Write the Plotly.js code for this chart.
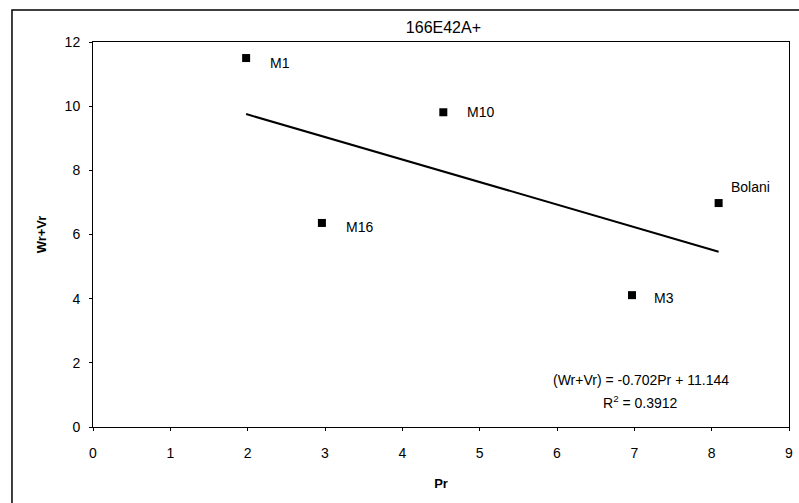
<!DOCTYPE html>
<html>
<head>
<meta charset="utf-8">
<script src="https://cdn.plot.ly/plotly-3.0.1.min.js"></script>
<style>html,body{margin:0;padding:0;background:#fff;}#chart{width:799px;height:503px;}</style>
</head>
<body>
<div id="chart"></div>
<script>
const names = ["M1", "M10", "M16", "M3", "Bolani"];
const pr = [1.98, 4.53, 2.96, 6.97, 8.09];
const wrvr = [11.5, 9.81, 6.36, 4.11, 6.98];
const slope = -0.702;
const intercept = 11.144;
const r2 = 0.3912;
const xTicks = [0, 1, 2, 3, 4, 5, 6, 7, 8, 9];
const yTicks = [0, 2, 4, 6, 8, 10, 12];

const xmin = Math.min(...pr), xmax = Math.max(...pr);
const trendX = [xmin, xmax];
const trendY = trendX.map(v => slope * v + intercept);

const font = "Liberation Sans, Arial, sans-serif";

const labelShift = {
  "M1": [22, -5], "M10": [22, 0], "M16": [22, -4], "M3": [20, -3], "Bolani": [10, 16]
};

const annotations = names.map((n, i) => ({
  x: pr[i], y: wrvr[i], xref: 'x', yref: 'y', text: n, showarrow: false,
  xanchor: 'left', yanchor: 'middle',
  xshift: labelShift[n][0], yshift: labelShift[n][1],
  font: {family: font, size: 14, color: '#000'}
}));
annotations.push({
  x: 0.787, y: 0.122, xref: 'paper', yref: 'paper', showarrow: false,
  text: "(Wr+Vr) = " + slope.toFixed(3) + "Pr + " + intercept.toFixed(3),
  xanchor: 'center', yanchor: 'middle', font: {family: font, size: 14, color: '#000'}
});
annotations.push({
  x: 0.787, y: 0.065, xref: 'paper', yref: 'paper', showarrow: false,
  text: "R<sup>2</sup> = " + r2.toFixed(4),
  xanchor: 'center', yanchor: 'middle', font: {family: font, size: 14, color: '#000'}
});

const data = [
  {x: trendX, y: trendY, mode: 'lines', type: 'scatter',
   line: {color: '#000', width: 2}, hoverinfo: 'skip'},
  {x: pr, y: wrvr, mode: 'markers', type: 'scatter',
   marker: {symbol: 'square', size: 8, color: '#000'}}
];

const layout = {
  width: 799, height: 503,
  margin: {l: 93, r: 10, t: 42, b: 76},
  paper_bgcolor: '#fff', plot_bgcolor: '#fff',
  showlegend: false,
  title: {text: "166E42A+", x: 0.555, xanchor: 'center', y: 0.945, yanchor: 'middle',
          font: {family: font, size: 16, color: '#000'}},
  xaxis: {range: [0, 9], tickvals: xTicks, ticktext: xTicks.map(String),
          showgrid: false, zeroline: false, showline: true, mirror: true,
          linecolor: '#000', linewidth: 1, ticks: 'outside', ticklen: 3,
          ticklabelstandoff: 10,
          tickcolor: '#000', tickfont: {family: font, size: 14, color: '#000'},
          title: {text: "<b>Pr</b>", standoff: 19, font: {family: font, size: 13, color: '#000'}}},
  yaxis: {range: [0, 12], tickvals: yTicks, ticktext: yTicks.map(String),
          showgrid: false, zeroline: false, showline: true, mirror: true,
          linecolor: '#000', linewidth: 1, ticks: 'outside', ticklen: 3,
          ticklabelstandoff: 6,
          tickcolor: '#000', tickfont: {family: font, size: 14, color: '#000'},
          title: {text: "<b>Wr+Vr</b>", standoff: 15, font: {family: font, size: 13, color: '#000'}}},
  annotations: annotations,
  shapes: [{type: 'rect', xref: 'paper', yref: 'paper',
            x0: -0.1164, x1: 1.03, y0: -0.4, y1: 1.083,
            line: {color: '#000', width: 1.5}, fillcolor: 'rgba(0,0,0,0)'}]
};

Plotly.newPlot('chart', data, layout, {staticPlot: true});
</script>
</body>
</html>
